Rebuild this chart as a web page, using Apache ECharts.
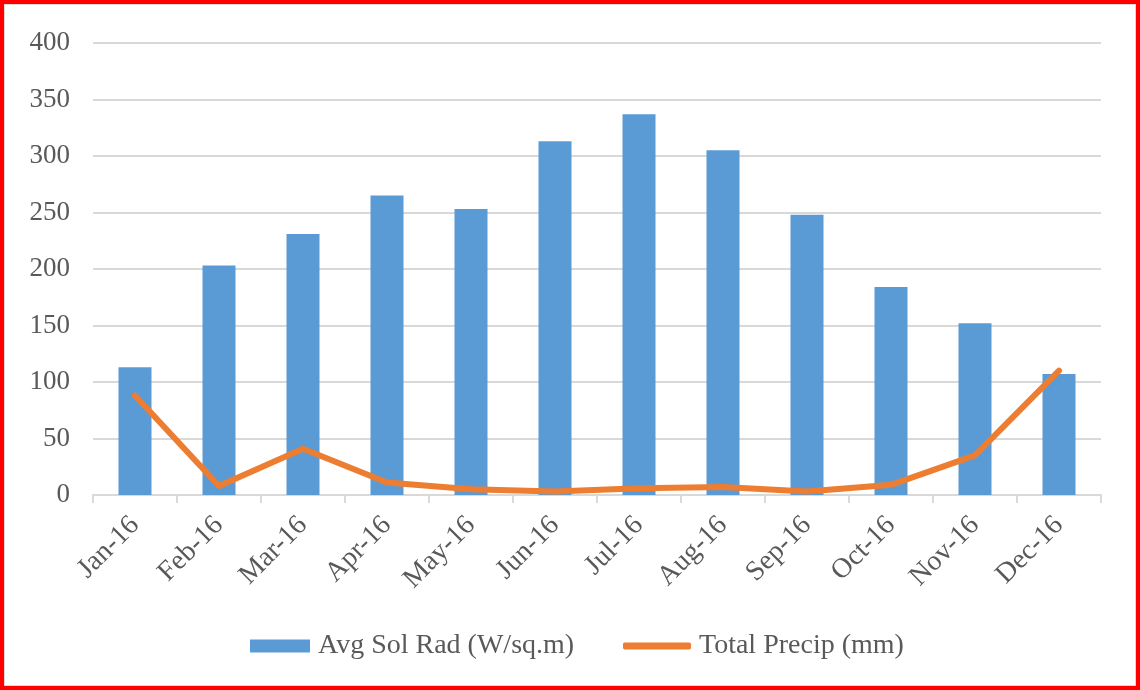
<!DOCTYPE html>
<html>
<head>
<meta charset="utf-8">
<script src="https://cdn.jsdelivr.net/npm/echarts@6/dist/echarts.min.js"></script>
<style>
  html, body { margin: 0; padding: 0; background: #fff; }
  #frame { width: 1140px; height: 690px; box-sizing: border-box; border: 4px solid #ff0000; }
  #inner { width: 100%; height: 100%; box-sizing: border-box; border: 1px solid #d9d9d9; }
  #chart { width: 1130px; height: 680px; }
</style>
</head>
<body>
<div id="frame"><div id="inner"><div id="chart"></div></div></div>
<script>
// Monthly weather summary for 2016
const months = ['Jan-16', 'Feb-16', 'Mar-16', 'Apr-16', 'May-16', 'Jun-16',
                'Jul-16', 'Aug-16', 'Sep-16', 'Oct-16', 'Nov-16', 'Dec-16'];
const solRad = [113, 203, 231, 265, 253, 313, 337, 305, 248, 184, 152, 107];
const precip = [88, 8, 41, 11, 5, 3, 6, 7, 3, 9, 35, 110];
const yTicks = { min: 0, max: 400, interval: 50 };

const SOL = 'Avg Sol Rad (W/sq.m)';
const PRE = 'Total Precip (mm)';
const font = '"Liberation Serif", "Times New Roman", serif';
const legendText = { fontFamily: font, fontSize: 28, color: '#595959', padding: [0, 0, 0, 3] };

const chart = echarts.init(document.getElementById('chart'));
chart.setOption({
  animation: false,
  textStyle: { fontFamily: font },
  grid: { left: 88, right: 34, top: 38, bottom: 190 },
  legend: [
    {
      left: 240, top: 622,
      itemWidth: 60, itemHeight: 13,
      textStyle: legendText,
      data: [{ name: SOL, icon: 'rect' }]
    },
    {
      left: 613, top: 622,
      itemWidth: 68, itemHeight: 7,
      textStyle: legendText,
      data: [{ name: PRE, icon: 'roundRect' }]
    }
  ],
  xAxis: {
    type: 'category',
    data: months,
    axisLine: { lineStyle: { color: '#d9d9d9', width: 2 } },
    axisTick: { show: true, length: 8, lineStyle: { color: '#d9d9d9', width: 2 } },
    axisLabel: { rotate: 45, fontSize: 28, color: '#595959', fontFamily: font, margin: 26 }
  },
  yAxis: {
    type: 'value',
    min: yTicks.min,
    max: yTicks.max,
    interval: yTicks.interval,
    axisLine: { show: false },
    axisTick: { show: false },
    axisLabel: { fontSize: 27, color: '#595959', fontFamily: font, margin: 23 },
    splitLine: { lineStyle: { color: '#d9d9d9', width: 2 } }
  },
  series: [
    {
      name: SOL,
      type: 'bar',
      data: solRad,
      barWidth: 33,
      itemStyle: { color: '#5b9bd5' }
    },
    {
      name: PRE,
      type: 'line',
      data: precip,
      symbol: 'none',
      lineStyle: { color: '#ed7d31', width: 6, cap: 'round', join: 'round' },
      itemStyle: { color: '#ed7d31' }
    }
  ]
});
</script>
</body>
</html>
